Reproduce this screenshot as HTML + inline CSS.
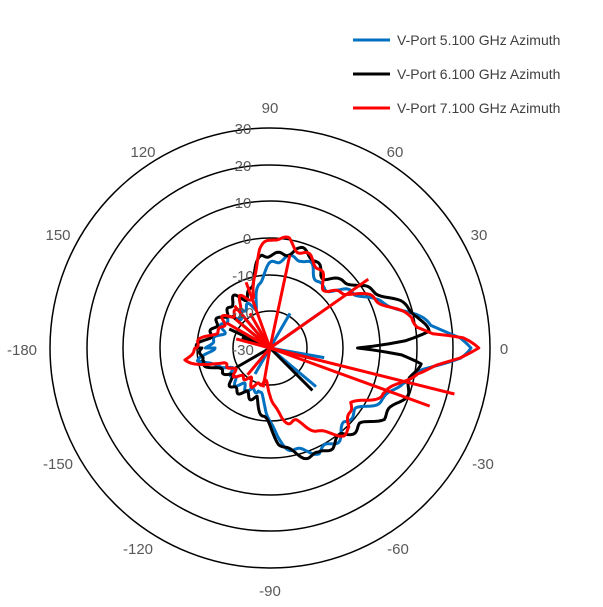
<!DOCTYPE html>
<html><head><meta charset="utf-8"><style>
body{margin:0;background:#fff;width:603px;height:607px;overflow:hidden}
svg{display:block;font-family:"Liberation Sans",sans-serif}
</style></head><body>
<svg id="s" width="603" height="607" xmlns="http://www.w3.org/2000/svg">
<g fill="none" stroke="#000" stroke-width="1.5">
<circle cx="270" cy="348" r="220"/><circle cx="270" cy="348" r="183"/><circle cx="270" cy="348" r="147"/>
<circle cx="270" cy="348" r="110"/><circle cx="270" cy="348" r="73"/><circle cx="270" cy="348" r="37"/>
</g>
<g id="series"></g>
<g font-size="15" fill="#595959" text-anchor="middle">
<text x="504" y="354">0</text><text x="479" y="240">30</text><text x="395" y="157">60</text>
<text x="270" y="113">90</text><text x="143" y="157">120</text><text x="58" y="240">150</text>
<text x="22" y="355">-180</text><text x="58" y="469">-150</text><text x="138" y="554">-120</text>
<text x="270" y="596">-90</text><text x="398" y="554">-60</text><text x="483" y="469">-30</text>
<text x="243" y="134">30</text><text x="243" y="171">20</text><text x="243" y="208">10</text>
<text x="247" y="244">0</text><text x="243" y="281">-10</text><text x="243" y="318">-20</text>
<text x="243" y="355">-30</text>
</g>
<g stroke-width="3">
<line x1="353" y1="40" x2="390" y2="40" stroke="#0070c0"/>
<line x1="353" y1="74" x2="390" y2="74" stroke="#000"/>
<line x1="353" y1="108" x2="390" y2="108" stroke="#f00"/>
</g>
<g font-size="14" fill="#404040">
<text x="397" y="45">V-Port 5.100 GHz Azimuth</text>
<text x="397" y="79">V-Port 6.100 GHz Azimuth</text>
<text x="397" y="113">V-Port 7.100 GHz Azimuth</text>
</g>
</svg>
<script>
const cx=270,cy=348;
function interp(cp,a){for(let i=0;i<cp.length-1;i++){const[a0,r0]=cp[i],[a1,r1]=cp[i+1];if(a>=a0&&a<=a1)return r0+(r1-r0)*(a-a0)/(a1-a0);}return cp[0][1];}
function make(cp,col,seed,amp,spikes){
 let d="";let s=seed;
 for(let a=-180;a<=180;a+=1){
  let r=interp(cp,a)+amp*Math.sin(a*0.35+s)*Math.sin(a*0.13+2*s);
  if(r<3)r=3;
  const t=a*Math.PI/180;const x=cx+r*Math.cos(t),y=cy-r*Math.sin(t);
  d+=(a==-180?"M":"L")+x.toFixed(1)+" "+y.toFixed(1);
 }
 let out=`<path d="${d}Z" fill="none" stroke="${col}" stroke-width="3" stroke-linejoin="round"/>`;
 for(const[a,r]of spikes){const t=a*Math.PI/180;out+=`<line x1="${cx}" y1="${cy}" x2="${(cx+r*Math.cos(t)).toFixed(1)}" y2="${(cy-r*Math.sin(t)).toFixed(1)}" stroke="${col}" stroke-width="3"/>`;}
 return out;
}
const blue=[[-180,60],[-170,70],[-160,50],[-140,45],[-120,50],[-105,40],[-95,60],[-85,90],[-75,105],[-65,118],[-55,112],[-45,105],[-35,110],[-25,120],[-15,135],[-8,160],[-3,190],[0,198],[3,190],[8,160],[12,150],[18,135],[25,115],[32,100],[40,88],[50,82],[60,85],[70,95],[80,95],[90,80],[100,65],[110,45],[130,45],[150,50],[170,55],[180,60]];
const black=[[-180,70],[-170,72],[-160,55],[-140,50],[-120,55],[-105,50],[-95,70],[-85,95],[-75,108],[-65,120],[-58,118],[-50,110],[-40,120],[-32,135],[-22,138],[-12,145],[-6,152],[-3,135],[0,92],[3,135],[6,155],[12,150],[20,138],[28,122],[35,105],[45,95],[55,92],[65,98],[75,103],[85,95],[95,90],[105,70],[115,55],[130,60],[150,55],[170,65],[180,70]];
const red=[[-180,75],[-172,85],[-162,50],[-140,40],[-120,40],[-100,35],[-90,45],[-80,70],[-70,82],[-60,95],[-50,110],[-45,115],[-40,105],[-34,98],[-28,110],[-22,118],[-15,138],[-10,150],[-6,170],[-3,192],[0,205],[3,188],[5,160],[8,150],[12,146],[18,132],[24,118],[30,104],[36,92],[44,83],[52,86],[60,92],[70,102],[80,110],[88,108],[96,98],[103,75],[108,52],[120,55],[140,50],[160,55],[172,65],[180,75]];
let h="";
h+=make(blue,"#0070c0",1.3,6,[[-10,55],[-40,60],[-120,30],[130,45],[150,35],[60,40],[35,60]]);
h+=make(black,"#000",2.1,6,[[-45,60],[140,50],[155,45],[-150,40],[160,30]]);
h+=make(red,"#f00",0.7,6,[[35,120],[78,95],[-14,190],[-20,170],[130,55],[150,50],[140,45],[120,40],[-100,40],[-130,35],[165,35],[110,70]]);
document.getElementById("series").innerHTML=h;
</script>
</body></html>
